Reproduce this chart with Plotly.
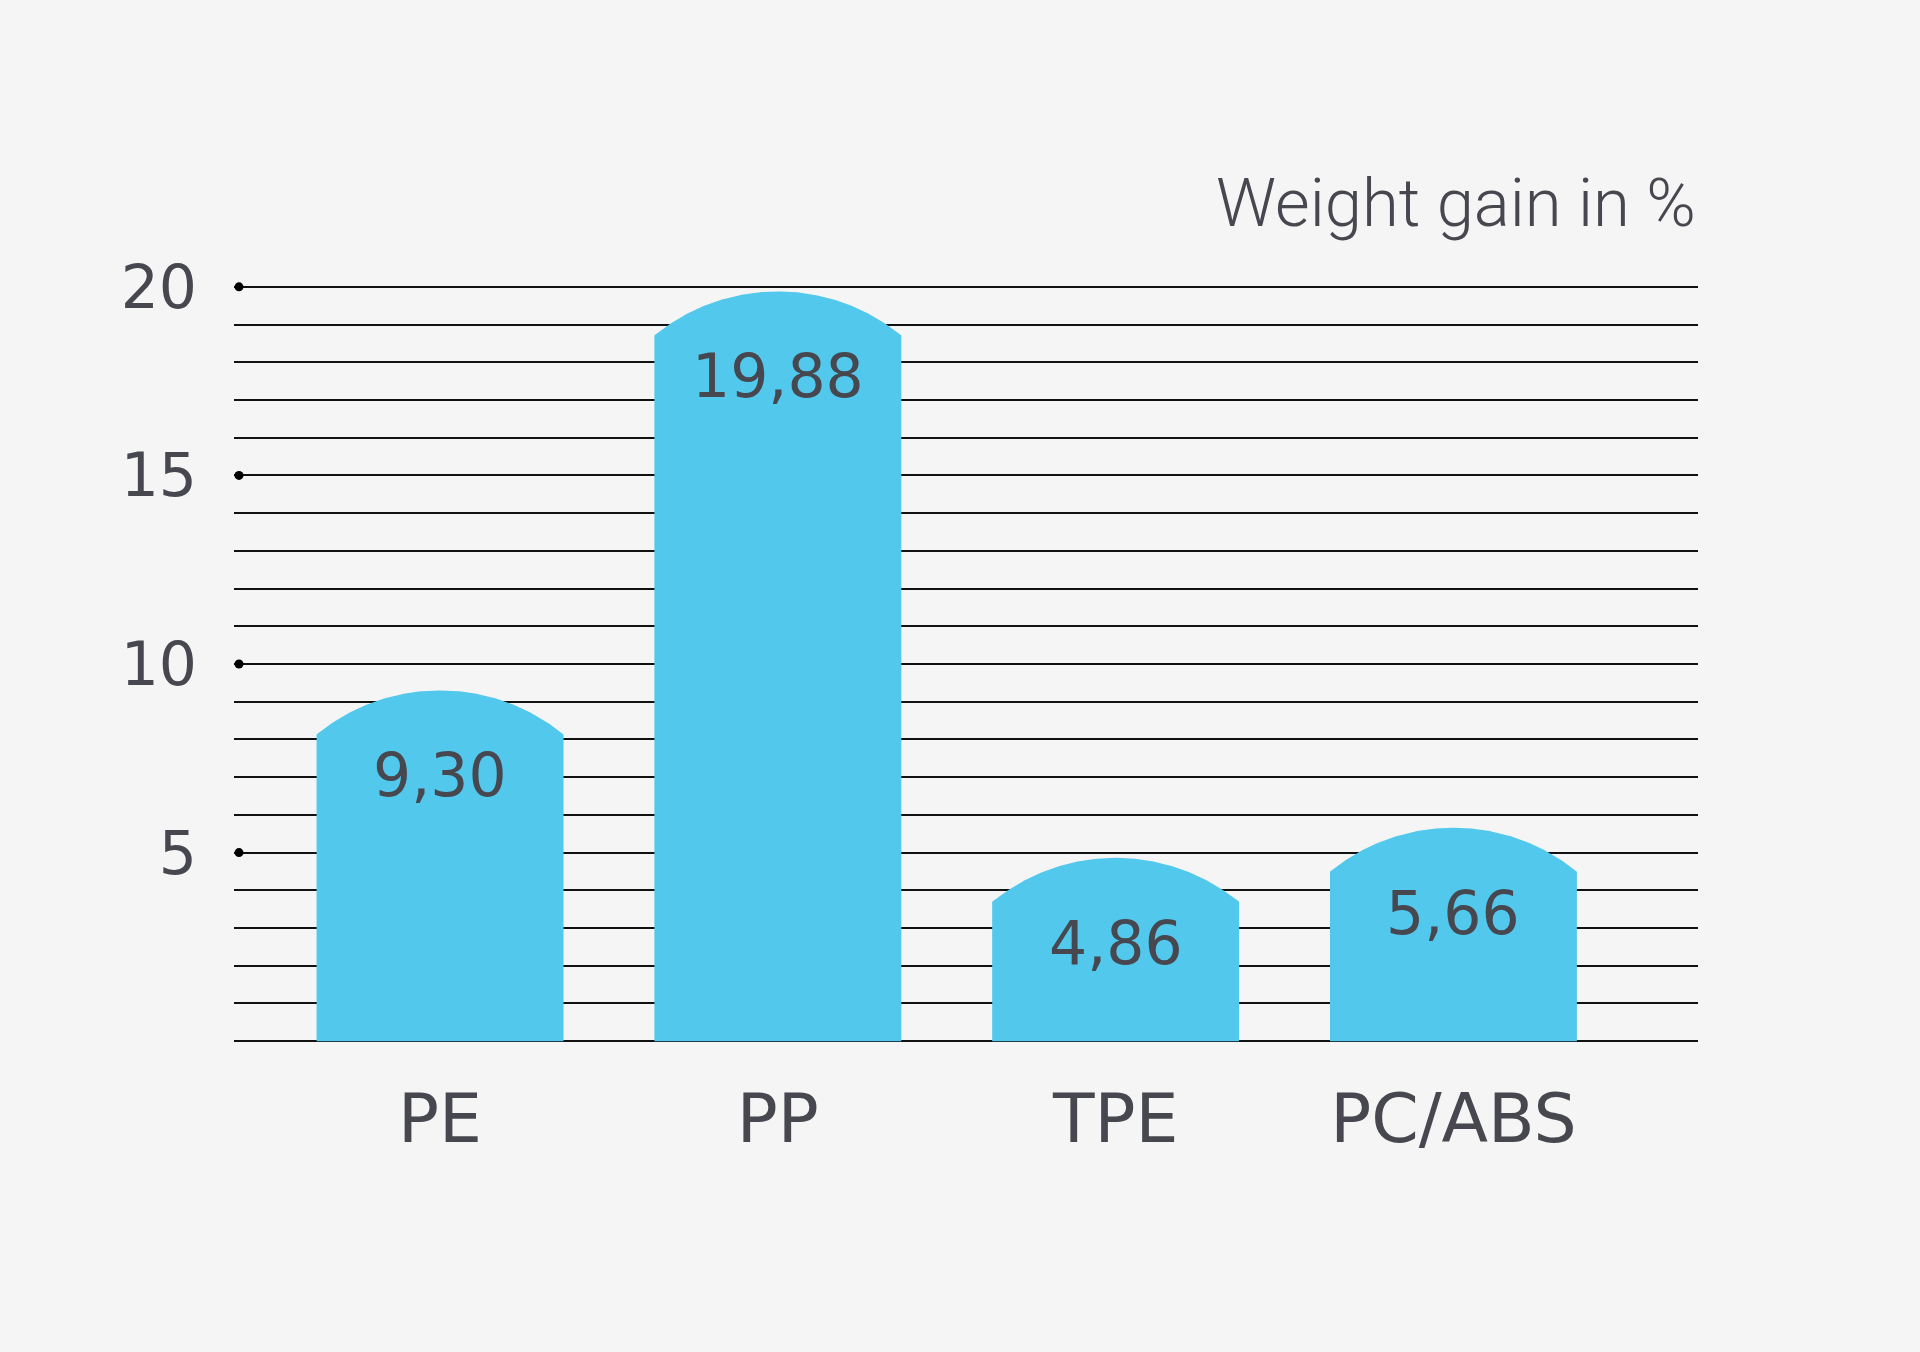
import numpy as np
import plotly.graph_objects as go

# ---- data ----
categories = ["PE", "PP", "TPE", "PC/ABS"]
values = [9.30, 19.88, 4.86, 5.66]
value_labels = ["9,30", "19,88", "4,86", "5,66"]
ytick_vals = [5, 10, 15, 20]
ytick_text = ["5", "10", "15", "20"]
title_text = "Weight gain in %"

# ---- style / layout ----
W, H = 1920, 1352
BG = "#f5f5f5"
BAR = "#52c8ec"
TXT = "#47474f"
ML, MR, MT = 234, 222, 268
PLOT_H = 792
MB = H - MT - PLOT_H
XR = [-0.61, 3.724]
YR = [-0.5, 20.5]
px_x = (W - ML - MR) / (XR[1] - XR[0])
px_y = PLOT_H / (YR[1] - YR[0])

bar_w = 0.731            # in category units
cap_h_px = 44.0          # arc height in pixels
label_drop = 2.25        # label below bar top (data units)

fig = go.Figure()

# arched bars
c = bar_w * px_x
R = (c * c / 4 + cap_h_px ** 2) / (2 * cap_h_px)
for i, v in enumerate(values):
    shoulder = v - cap_h_px / px_y
    dxs = np.linspace(-c / 2, c / 2, 160)
    arc_y = shoulder + (np.sqrt(R ** 2 - dxs ** 2) - (R - cap_h_px)) / px_y
    xs = [i - bar_w / 2, i - bar_w / 2] + list(i + dxs / px_x) + [i + bar_w / 2, i + bar_w / 2]
    ys = [0, shoulder] + list(arc_y) + [shoulder, 0]
    fig.add_trace(go.Scatter(x=xs, y=ys, fill="toself", fillcolor=BAR, mode="lines",
                             line=dict(width=0, color=BAR),
                             hoverinfo="skip", showlegend=False))

# dots at major ticks
fig.add_trace(go.Scatter(x=[XR[0] + 5 / px_x] * len(ytick_vals), y=ytick_vals, mode="markers",
                         marker=dict(size=9, color="#000000"), cliponaxis=False,
                         hoverinfo="skip", showlegend=False))

# value labels
for i, (v, t) in enumerate(zip(values, value_labels)):
    fig.add_annotation(x=i, y=v - label_drop, text=t, showarrow=False,
                       font=dict(family="DejaVu Sans", size=60, color=TXT),
                       xanchor="center", yanchor="middle")

# title
fig.add_annotation(x=1.0, xref="paper", y=1 + (MT - 203) / PLOT_H, yref="paper",
                   text=title_text, showarrow=False, xanchor="right", yanchor="middle",
                   font=dict(family="Roboto", size=67, color=TXT, weight=300))

fig.update_layout(
    width=W, height=H,
    paper_bgcolor=BG, plot_bgcolor=BG,
    margin=dict(l=ML, r=MR, t=MT, b=MB, pad=0),
    showlegend=False,
    xaxis=dict(range=XR, tickvals=list(range(len(categories))), ticktext=categories,
               showgrid=False, zeroline=False, showline=False, ticks="",
               tickfont=dict(family="DejaVu Sans", size=68, color=TXT),
               ticklabelstandoff=13, fixedrange=True),
    yaxis=dict(range=YR, tickvals=ytick_vals, ticktext=ytick_text,
               showgrid=True, gridcolor="#111111", gridwidth=2.2,
               zeroline=True, zerolinecolor="#111111", zerolinewidth=2.2,
               showline=False, ticks="",
               minor=dict(dtick=1, tick0=0, showgrid=True, gridcolor="#111111", gridwidth=2.2),
               tickfont=dict(family="DejaVu Sans", size=60, color=TXT),
               ticklabelstandoff=36, fixedrange=True),
)

fig.write_html("out.html", config={"displayModeBar": False},
               post_script="document.body.style.margin='0';document.body.style.background='%s';" % BG)
